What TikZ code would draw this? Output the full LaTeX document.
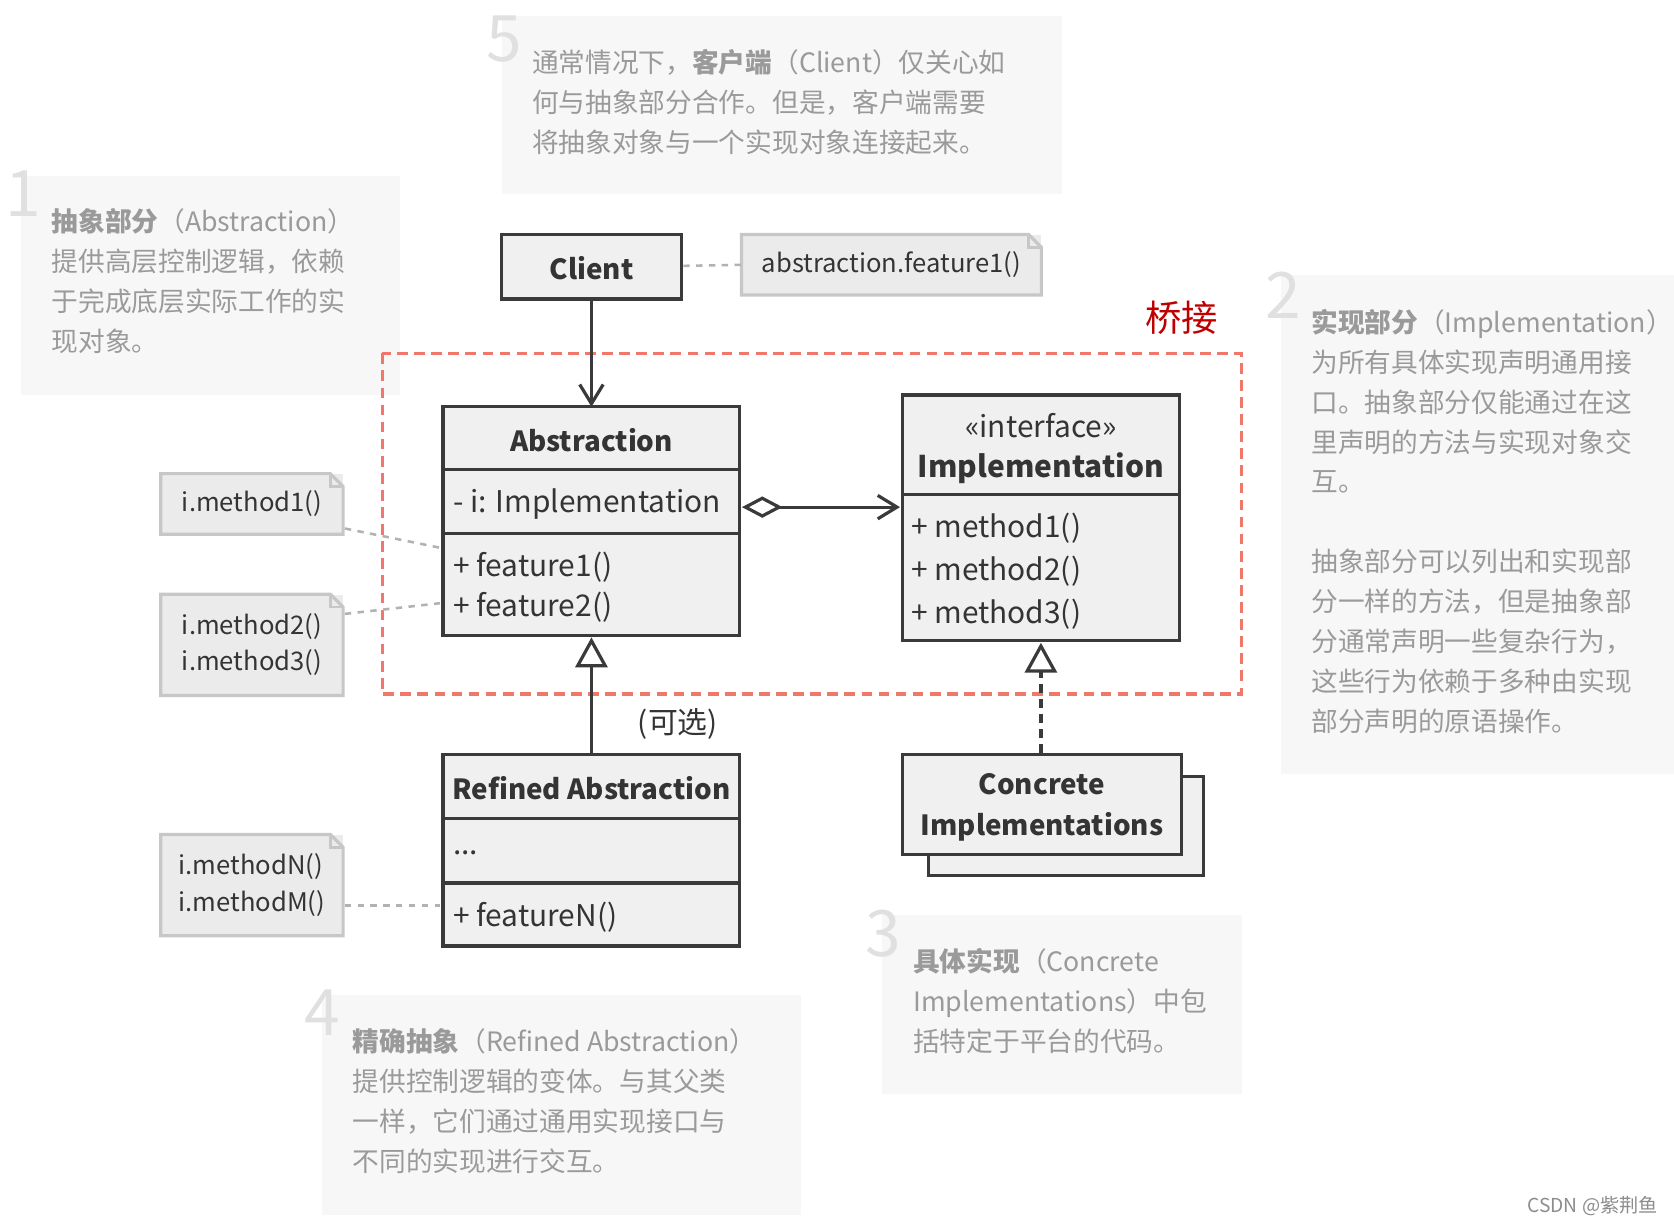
\documentclass[tikz,border=0pt]{standalone}
\usepackage{fontspec}
\setmainfont{Noto Sans CJK SC}
\usetikzlibrary{arrows.meta}
\definecolor{ntxt}{HTML}{9A9A9A}
\definecolor{nbg}{HTML}{F7F7F7}
\definecolor{cbg}{HTML}{F0F0F0}
\definecolor{cln}{HTML}{3A3A3A}
\definecolor{red1}{HTML}{F0776A}
\tikzset{
 note/.style={fill=nbg,draw=none},
 ntext/.style={text=ntxt,font=\fontsize{12.5}{18.7}\selectfont,align=left,anchor=north west,inner sep=0pt},
 num/.style={text=black!12,font=\fontsize{30}{30}\selectfont,anchor=north west,inner sep=0pt},
 cls/.style={draw=cln,line width=1.5pt,fill=cbg},
 ctext/.style={font=\fontsize{14}{19}\selectfont,text=cln!90!black,inner sep=0pt},
 btext/.style={font=\bfseries\fontsize{13}{19}\selectfont,text=cln!90!black,inner sep=0pt},
 small/.style={draw=none,fill=black!8,minimum width=85pt,font=\fontsize{12}{17}\selectfont,text=cln,align=left,inner sep=0pt},
 smallframe/.style={draw=black!22,line width=1.5pt,fill=black!8},
 dotl/.style={draw=black!30,line width=1.2pt,dash pattern=on 3pt off 3pt},
}
\newcommand\dogear[1]{\draw[smallframe] (#1.south west) -- (#1.north west) -- ([xshift=-6pt]#1.north east) -- ([yshift=-6pt]#1.north east) -- (#1.south east) -- cycle;
 \draw[black!22,line width=1.2pt] ([xshift=-6pt]#1.north east) -- ([xshift=-6pt,yshift=-6pt]#1.north east) -- ([yshift=-6pt]#1.north east);}
\begin{document}
\begin{tikzpicture}[x=0.5pt,y=-0.5pt]
\useasboundingbox (0,0) rectangle (1568,1148);
% notes
\fill[note] (470,15) rectangle (995,182);
\node[num] (n5) at (455,14) {5};
\node[ntext] (t5) at (498,46) {通常情况下，\textbf{客户端}（Client）仅关心如\\何与抽象部分合作。但是，客户端需要\\将抽象对象与一个实现对象连接起来。};
\fill[note] (20,165) rectangle (375,370);
\node[num] (n1) at (5,160) {1};
\node[ntext] (t1) at (48,195) {\textbf{抽象部分}（Abstraction）\\提供高层控制逻辑，依赖\\于完成底层实际工作的实\\现对象。};
\fill[note] (1200,258) rectangle (1568,725);
\node[num] (n2) at (1185,254) {2};
\node[ntext] (t2) at (1228,289) {\textbf{实现部分}（Implementation）\\为所有具体实现声明通用接\\口。抽象部分仅能通过在这\\里声明的方法与实现对象交\\互。\\[18.7pt]抽象部分可以列出和实现部\\分一样的方法，但是抽象部\\分通常声明一些复杂行为，\\这些行为依赖于多种由实现\\部分声明的原语操作。};
\fill[note] (826,857) rectangle (1163,1025);
\node[num] (n3) at (810,852) {3};
\node[ntext] (t3) at (855,888) {\textbf{具体实现}（Concrete\\Implementations）中包\\括特定于平台的代码。};
\fill[note] (302,932) rectangle (750,1138);
\node[num] (n4) at (285,927) {4};
\node[ntext] (t4) at (330,963) {\textbf{精确抽象}（Refined Abstraction）\\提供控制逻辑的变体。与其父类\\一样，它们通过通用实现接口与\\不同的实现进行交互。};
% bridge
\draw[red1,line width=1.5pt,dash pattern=on 5pt off 3pt] (358,331) rectangle (1163,650);
\node[text=red!75!black,font=\fontsize{17}{17}\selectfont] (br) at (1107,298) {桥接};
% client
\draw[cls] (470,220) rectangle (638,280);
\node[btext] (client) at (554,251) {Client};
\coordinate (cb) at (554,281);
\node[small,minimum width=140pt,minimum height=28pt] (af) at (835,248) {};
\dogear{af}
\node[ctext,font=\fontsize{12}{17}\selectfont] (aft) at (af) {abstraction.feature1()};
\draw[dotl] (640,249) -- (af.west);
% Abstraction
\draw[cls] (415,381) rectangle (693,595);
\draw[cln,line width=1.5pt] (415,440) -- (693,440) (415,500) -- (693,500);
\node[btext] (abs) at (554,412) {Abstraction};
\node[ctext,anchor=west] (absf) at (424,472) {- i: Implementation};
\node[ctext,anchor=west,align=left] (absm) at (424,550) {+ feature1()\\+ feature2()};
\coordinate (abstop) at (554,381);
\coordinate (absbot) at (554,597);
\coordinate (absr) at (695,475);
\draw[cln,line width=1.5pt,-{Straight Barb[length=9pt,width=11pt,line width=1.5pt]}] (cb) -- (abstop);
% Implementation
\draw[cls] (845,370) rectangle (1105,600);
\draw[cln,line width=1.5pt] (845,463) -- (1105,463);
\node[ctext,align=center] (impl) at (975,420) {«interface»\\\textbf{Implementation}};
\node[ctext,anchor=west,align=left,font=\fontsize{14}{20}\selectfont] (implm) at (853,535) {+ method1()\\+ method2()\\+ method3()};
\coordinate (impll) at (843,475);
\coordinate (implbot) at (975,602);
\draw[cln,line width=1.5pt,{Diamond[open,length=19pt,width=10pt,line width=1.5pt]}-{Straight Barb[length=9pt,width=11pt,line width=1.5pt]}] (absr) -- (impll);
% Refined
\draw[cls] (415,707) rectangle (693,886);
\draw[cln,line width=1.5pt] (415,767) -- (693,767) (415,827) -- (693,827);
\node[btext] (ref) at (554,738) {Refined Abstraction};
\node[ctext,anchor=west] (refd) at (424,799) {...};
\node[ctext,anchor=west] (refm) at (424,859) {+ featureN()};
\coordinate (reftop) at (554,707);
\draw[cln,line width=1.5pt,-{Triangle[open,length=14pt,width=15pt,line width=1.5pt]}] (reftop) -- (absbot);
\node[ctext] (opt) at (635,678) {(可选)};
% Concrete
\draw[cls] (870,727) rectangle (1127,820);
\draw[cls] (845,707) rectangle (1107,800);
\node[btext,align=center] (conc) at (976,756) {Concrete\\Implementations};
\coordinate (conctop) at (975,705);
\draw[cln,line width=1.5pt,dash pattern=on 4pt off 3pt,-{Triangle[open,length=14pt,width=15pt,line width=1.5pt,sep=0pt]}] (conctop) -- (implbot);
% side notes
\node[small,minimum height=28pt] (s1) at (236,472) {};
\dogear{s1}
\node[ctext,font=\fontsize{12}{17}\selectfont] at (s1) {i.method1()};
\node[small,minimum height=47pt] (s2) at (236,604) {};
\dogear{s2}
\node[ctext,font=\fontsize{12}{17}\selectfont,align=left] at (s2) {i.method2()\\i.method3()};
\node[small,minimum height=47pt] (s3) at (236,829) {};
\dogear{s3}
\node[ctext,font=\fontsize{12}{17}\selectfont,align=left] at (s3) {i.methodN()\\i.methodM()};
\coordinate (a1) at (412,513);
\coordinate (a2) at (412,565);
\coordinate (a3) at (412,848);
\draw[dotl] (323,495) -- (a1);
\draw[dotl] (323,575) -- (a2);
\draw[dotl] (323,848) -- (a3);
\node[text=black!45,font=\fontsize{9}{9}\selectfont,anchor=east] (wm) at (1560,1130) {CSDN @紫荆鱼};
\end{tikzpicture}
\end{document}
